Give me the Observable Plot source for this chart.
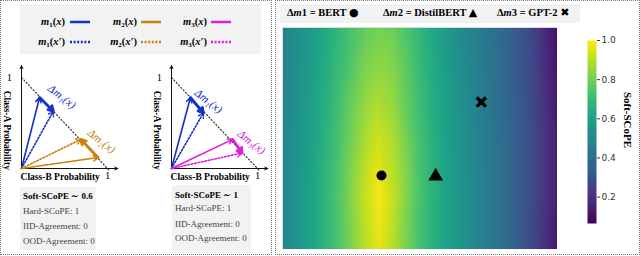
<!DOCTYPE html>
<html><head><meta charset="utf-8">
<script src="https://cdn.jsdelivr.net/npm/d3@7"></script>
<script src="https://cdn.jsdelivr.net/npm/@observablehq/plot@0.6"></script>
<style>
body{margin:0;background:#fff;}
#root{position:relative;width:640px;height:256px;overflow:hidden;font-family:"Liberation Serif",serif;color:#000;}
.abs{position:absolute;white-space:nowrap;}
.panel{position:absolute;border:1px dotted #777;box-sizing:border-box;}
.box{position:absolute;background:#f2f2f2;}
.lg{font-weight:bold;font-size:10.5px;line-height:12px;}
.lg sub{font-size:7px;vertical-align:-2px;}
.info{font-size:9px;color:#444;line-height:11px;}
.info b{color:#000;}
</style></head><body><div id="root"></div>
<script>
// ---------------- data ----------------
const seriesColors = ["#1530c8", "#c9820f", "#dd20d8"];
const seriesIdx = [1, 2, 3];

// panel 1 : m1 & m2 ; panel 2 : m1 & m3  (Class-B prob, Class-A prob)
const panel1Series = [0, 1];
const panel1Solid  = [[0.21, 0.78], [0.89, 0.12]];
const panel1Dotted = [[0.37, 0.63], [0.69, 0.32]];
const panel1Label  = [[0.47, 0.79], [0.93, 0.30]];
const panel2Series = [0, 2];
const panel2Solid  = [[0.22, 0.78], [0.71, 0.32]];
const panel2Dotted = [[0.37, 0.61], [0.82, 0.17]];
const panel2Label  = [[0.43, 0.74], [0.93, 0.29]];
const axisEnds = [[1.12, 0], [0, 1.13]];
const diagonal = [[0, 1], [1.03, -0.03]];

const infoTitles = ["Soft-SCoPE ∼ 0.6", "Soft-SCoPE ∼ 1"];
const infoHard = [1, 1];
const infoIID = [0, 0];
const infoOOD = [0, 0];

// heatmap (normalized axes), values of Soft-SCoPE
const heatX = [0, 0.1, 0.2, 0.3, 0.35, 0.4, 0.5, 0.6, 0.7, 0.8, 0.9, 1.0];
const heatY = [1.0, 0.75, 0.5, 0.25, 0.0];
const heatRows = [
  [0.48, 0.57, 0.68, 0.78, 0.80, 0.79, 0.68, 0.56, 0.47, 0.38, 0.27, 0.10],
  [0.48, 0.58, 0.70, 0.83, 0.86, 0.84, 0.70, 0.58, 0.48, 0.39, 0.28, 0.12],
  [0.49, 0.59, 0.72, 0.88, 0.93, 0.89, 0.72, 0.59, 0.49, 0.40, 0.29, 0.14],
  [0.49, 0.60, 0.74, 0.92, 0.99, 0.92, 0.73, 0.60, 0.50, 0.40, 0.29, 0.14],
  [0.49, 0.60, 0.73, 0.90, 0.96, 0.90, 0.72, 0.60, 0.50, 0.40, 0.28, 0.12]
];
const modelNames = ["BERT", "DistilBERT", "GPT-2"];
const modelX = [0.36, 0.557, 0.723];
const modelY = [0.333, 0.33, 0.664];
const colorDomain = [0.065, 1.0];
const colorTicks = [0.2, 0.4, 0.6, 0.8, 1.0];

// ---------------- layout ----------------
const root = document.getElementById("root");
function el(html, css, cls) {
  const d = document.createElement("div");
  d.className = cls || "abs";
  d.style.cssText = css;
  d.innerHTML = html;
  root.appendChild(d);
  return d;
}
el("", "left:0;top:0;width:272px;height:255px;", "panel");
el("", "left:275px;top:0;width:365px;height:255px;", "panel");

// left legend
el("", "left:20px;top:4px;width:241px;height:50px;", "box");
const legRight = [65, 137, 207];
const swStart = [69, 140, 210];
[0, 1].forEach(row => {
  seriesIdx.forEach((k, i) => {
    const prime = row ? "′" : "";
    const d = el(`<i>m</i><sub>${k}</sub>(<i>x${prime}</i>)`, `top:${row ? 36 : 16}px;`, "abs lg");
    d.style.right = (640 - legRight[i]) + "px";
    el(`<svg width="22" height="6"><line x1="1" x2="21" y1="3" y2="3" stroke="${seriesColors[i]}" stroke-width="2.5" ${row ? 'stroke-dasharray="2,1.6"' : ''}/></svg>`,
       `left:${swStart[i]}px;top:${row ? 39 : 19}px;line-height:0;`);
  });
});

function vecPlot(series, solid, dotted, labels) {
  const solidA = series.map((s, i) => ({x1: 0, y1: 0, x2: solid[i][0], y2: solid[i][1], c: seriesColors[s]}));
  const dotA = series.map((s, i) => ({x1: 0, y1: 0, x2: dotted[i][0], y2: dotted[i][1], c: seriesColors[s]}));
  const deltaA = series.map((s, i) => ({x1: solid[i][0], y1: solid[i][1], x2: dotted[i][0], y2: dotted[i][1], c: seriesColors[s]}));
  const labs = series.map((s, i) => ({x: labels[i][0], y: labels[i][1], c: seriesColors[s], t: `Δm${"₁₂₃"[s]}(x)`}));
  const axes = axisEnds.map(e => ({x1: 0, y1: 0, x2: e[0], y2: e[1]}));
  return Plot.plot({
    width: 135, height: 125, marginLeft: 21, marginRight: 28, marginTop: 17, marginBottom: 17,
    style: {fontFamily: "Liberation Serif, serif", background: "transparent", overflow: "visible"},
    x: {domain: [0, 1], axis: null}, y: {domain: [0, 1], axis: null},
    color: {type: "identity"},
    marks: [
      Plot.line(diagonal, {x: d => d[0], y: d => d[1], stroke: "#222", strokeWidth: 1.1, strokeDasharray: "1.2,2.2"}),
      Plot.arrow(axes, {x1: "x1", y1: "y1", x2: "x2", y2: "y2", stroke: "#111", strokeWidth: 1, headLength: 5, headAngle: 50}),
      Plot.arrow(dotA, {x1: "x1", y1: "y1", x2: "x2", y2: "y2", stroke: "c", strokeWidth: 1.6, strokeDasharray: "1.6,1.8", headLength: 5}),
      Plot.arrow(solidA, {x1: "x1", y1: "y1", x2: "x2", y2: "y2", stroke: "c", strokeWidth: 1.6, headLength: 5}),
      Plot.arrow(deltaA, {x1: "x1", y1: "y1", x2: "x2", y2: "y2", stroke: "c", strokeWidth: 2.8, headLength: 3}),
      Plot.text(labs, {x: "x", y: "y", text: "t", fill: "c", rotate: 38, fontSize: 11.5, fontStyle: "italic"}),
      Plot.text(["Class-A Probability"], {x: -0.17, y: 0.42, text: d => d, rotate: 90, fontWeight: "bold", fontSize: 9.5}),
      Plot.text(["Class-B Probability"], {x: 0.45, y: -0.09, text: d => d, fontWeight: "bold", fontSize: 9.5}),
      Plot.text([1], {x: d => d, y: -0.08, text: d => String(d), fontSize: 10.5}),
      Plot.text([1], {x: -0.14, y: d => d, text: d => String(d), fontSize: 10.5})
    ]
  });
}
const p1 = vecPlot(panel1Series, panel1Solid, panel1Dotted, panel1Label);
const p2 = vecPlot(panel2Series, panel2Solid, panel2Dotted, panel2Label);
el("", "left:0;top:60px;").appendChild(p1);
el("", "left:150px;top:60px;").appendChild(p2);

// info boxes
const infoBoxes = [{left: 20, top: 187, w: 76, h: 63}, {left: 172, top: 185, w: 79, h: 68}];
infoTitles.forEach((t, i) => {
  const b = infoBoxes[i];
  el("", `left:${b.left}px;top:${b.top}px;width:${b.w}px;height:${b.h}px;`, "box");
  const lines = [`<b>${t}</b>`, `Hard-SCoPE: ${infoHard[i]}`, `IID-Agreement: ${infoIID[i]}`, `OOD-Agreement: ${infoOOD[i]}`];
  const tops = i ? [190, 203, 219, 233] : [191, 206, 221, 236];
  lines.forEach((l, j) => el(l, `left:${b.left + 3}px;top:${tops[j]}px;`, "abs info"));
});

// right legend
el("", "left:280px;top:4px;width:300px;height:19px;", "box");
const legSym = ["●", "▲", "✖"];
const legLeft = [287, 383, 497];
modelNames.forEach((n, i) => {
  el(`Δ<i>m</i>${i + 1} = ${n} <span style="font-family:'DejaVu Sans';font-size:11px">${legSym[i]}</span>`,
     `left:${legLeft[i]}px;top:7px;font-weight:bold;font-size:10.5px;line-height:12px;`);
});

// heatmap
const heatPts = [];
heatY.forEach((y, r) => heatX.forEach((x, c) => heatPts.push({x, y, v: heatRows[r][c]})));
const models = modelNames.map((n, i) => ({n, x: modelX[i], y: modelY[i]}));
const heat = Plot.plot({
  width: 275, height: 222, margin: 0,
  x: {domain: [0, 1], axis: null}, y: {domain: [0, 1], axis: null},
  color: {type: "linear", scheme: "viridis", domain: colorDomain},
  marks: [
    Plot.raster(heatPts, {x: "x", y: "y", fill: "v", interpolate: "barycentric", x1: 0, y1: 0, x2: 1, y2: 1}),
    Plot.dot(models.filter(d => d.n === "BERT"), {x: "x", y: "y", r: 5, fill: "#000", symbol: "circle"}),
    Plot.dot(models.filter(d => d.n === "DistilBERT"), {x: "x", y: "y", r: 5.5, fill: "#000", symbol: "triangle"}),
    Plot.dot(models.filter(d => d.n === "GPT-2"), {x: "x", y: "y", r: 4.2, stroke: "#000", strokeWidth: 3.5, symbol: "times"}),
    Plot.frame({stroke: "#ddd"})
  ]
});
el("", "left:282px;top:27px;").appendChild(heat);

// colorbar
const cbar = Plot.plot({
  width: 40, height: 195, marginTop: 5, marginBottom: 7, marginLeft: 0, marginRight: 31,
  style: {fontFamily: "DejaVu Sans, sans-serif", fontSize: "9px", color: "#333", background: "transparent"},
  x: {domain: [0, 1], axis: null},
  y: {domain: colorDomain, axis: "right", ticks: colorTicks, tickFormat: ".1f", tickSize: 3, tickPadding: 2, label: null},
  color: {type: "linear", scheme: "viridis", domain: colorDomain},
  marks: [Plot.raster({fill: (x, y) => y, x1: 0, x2: 1, y1: colorDomain[0], y2: colorDomain[1]})]
});
el("", "left:587px;top:35px;").appendChild(cbar);
el("Soft-SCoPE", "left:628px;top:120px;transform:translate(-50%,-50%) rotate(90deg);font-weight:bold;font-size:11px;");
</script></body></html>
